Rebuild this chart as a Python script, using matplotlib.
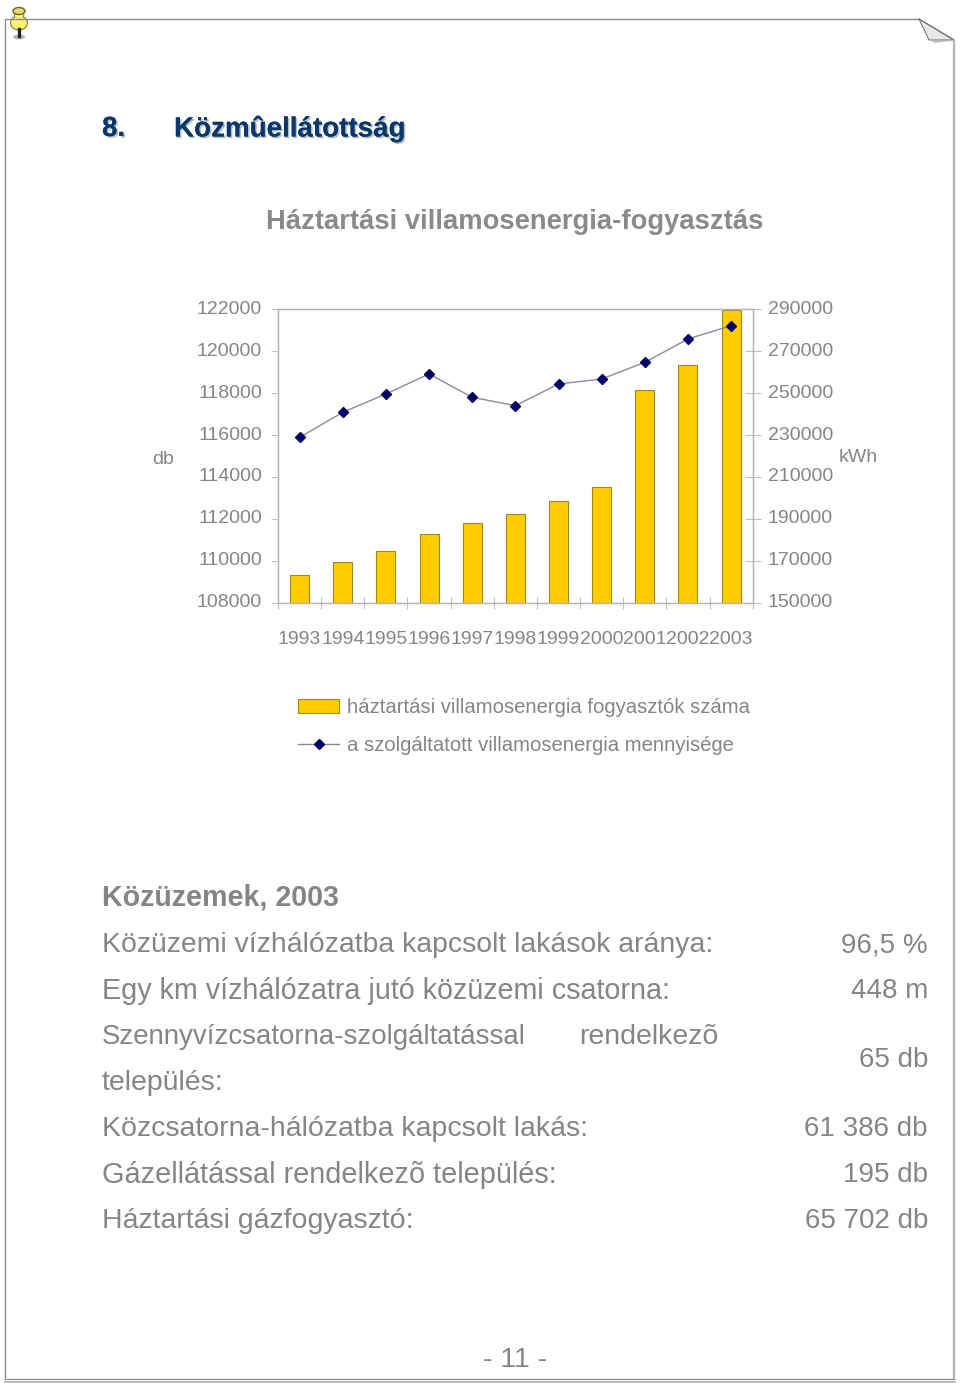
import numpy as np
import matplotlib
matplotlib.use('Agg')
import matplotlib.pyplot as plt
import matplotlib.patheffects as pe
from matplotlib.patches import Ellipse, Polygon
from matplotlib.transforms import ScaledTranslation

plt.rcParams['font.family'] = ['Liberation Sans', 'DejaVu Sans']

years = ['1993', '1994', '1995', '1996', '1997', '1998', '1999', '2000', '2001', '2002', '2003']
consumers = [109305, 109940, 110480, 111290, 111790, 112250, 112870, 113520, 118130, 119330, 121970]
energy = [228900, 240840, 249590, 259140, 248000, 244020, 254360, 256750, 264700, 275840, 282200]

left_ticks = [108000, 110000, 112000, 114000, 116000, 118000, 120000, 122000]
right_ticks = [150000, 170000, 190000, 210000, 230000, 250000, 270000, 290000]

bar_label = 'háztartási villamosenergia fogyasztók száma'
line_label = 'a szolgáltatott villamosenergia mennyisége'

rows = ['Közüzemi vízhálózatba kapcsolt lakások aránya:',
        'Egy km vízhálózatra jutó közüzemi csatorna:',
        'Szennyvízcsatorna-szolgáltatással',
        'település:',
        'Közcsatorna-hálózatba kapcsolt lakás:',
        'Gázellátással rendelkezõ település:',
        'Háztartási gázfogyasztó:']
row_y = [945, 991, 1037, 1083, 1129, 1175, 1221]
row_size = [20.45, 20.7, 19.9, 20.5, 20.5, 20.75, 20.5]
amounts = ['96,5 %', '448 m', '65 db', '61 386 db', '195 db', '65 702 db']
amount_y = [945, 991, 1060, 1129, 1175, 1221]

GREY = '#858585'
W, H = 960, 1383

fig = plt.figure(figsize=(9.6, 13.83), dpi=100)

# page overlay in pixel coords
page = fig.add_axes([0, 0, 1, 1], zorder=0)
page.set_xlim(0, W)
page.set_ylim(H, 0)
page.axis('off')

page.plot([5, 5, 919], [1379, 19, 19], color='#8c8c8c', lw=1.0)
page.plot([919, 954], [19, 40], color='#777777', lw=0.9)
page.plot([954, 954], [40, 1379], color='#b4b4b4', lw=1.6)
page.plot([5, 954], [1379, 1379], color='#8c8c8c', lw=0.9)
page.plot([5, 954], [1381.5, 1381.5], color='#bcbcbc', lw=2.2)
page.add_patch(Polygon([(919, 19), (954, 40), (929, 40)], fc='#e8e8e8', ec='#777777', lw=0.8))
page.add_patch(Polygon([(931, 41), (952, 41), (934, 43)], fc='#c4c4c4', ec='none'))

# pin
page.add_patch(Ellipse((19, 37), 12, 5, fc='#b8b8b8', ec='none'))
page.plot([19, 19], [29, 36], color='#222222', lw=2.4)
page.add_patch(Polygon([(14, 13), (24, 13), (23, 20), (15, 20)], fc='#fbf27a', ec='#8a7d20', lw=0.6))
page.add_patch(Ellipse((19, 23), 17, 14, fc='#fbf27a', ec='#8a7d20', lw=0.8))
page.add_patch(Polygon([(15, 15), (23, 15), (22, 20), (16, 20)], fc='#fbf27a', ec='none'))
page.add_patch(Ellipse((19, 11), 12, 7, fc='#e8d870', ec='#6e6420', lw=1))

shadow = [pe.withSimplePatchShadow(offset=(1.2, -1.2), shadow_rgbFace='#8fa3b8', alpha=0.7), pe.Normal()]
page.text(102, 129, '8.', fontsize=20, fontweight='bold', color='#0b3768', va='center', path_effects=shadow)
page.text(174, 129, 'Közmûellátottság', fontsize=20, fontweight='bold', color='#0b3768', va='center', path_effects=shadow)
page.text(515, 222, 'Háztartási villamosenergia-fogyasztás', fontsize=19.75, fontweight='bold', color='#8a8a8a',
          ha='center', va='center')

page.text(102, 898, 'Közüzemek, 2003', fontsize=20.6, fontweight='bold', color=GREY, va='center')
for label, y, size in zip(rows, row_y, row_size):
    page.text(102, y, label, fontsize=size, color=GREY, va='center')
page.text(579, 1037, 'rendelkezõ', fontsize=20.5, color=GREY, va='center')
for label, y in zip(amounts, amount_y):
    page.text(928, y, label, fontsize=20, color=GREY, ha='right', va='center')
page.text(515, 1360, '- 11 -', fontsize=20.5, color=GREY, ha='center', va='center')

page.text(163, 460, 'db', fontsize=14, color=GREY, ha='center', va='center')
page.text(858, 458, 'kWh', fontsize=14, color=GREY, ha='center', va='center')

# chart
x0, x1, y0, y1 = 278, 752.7, 309.3, 602.7
ax = fig.add_axes([x0 / W, 1 - y1 / H, (x1 - x0) / W, (y1 - y0) / H], zorder=1)
ax.patch.set_alpha(0)
x = np.arange(len(years))
ax.bar(x, consumers, width=0.44, color='#ffcc00', edgecolor='#9c8a1e', linewidth=0.8, label=bar_label)
ax.set_xlim(-0.5, len(years) - 0.5)
ax.set_ylim(108000, 122000)
ax.set_yticks(left_ticks)
ax.set_yticklabels([str(t) for t in left_ticks])
ax.set_xticks(np.arange(len(years) + 1) - 0.5, minor=True)
ax.set_xticks(x)
ax.set_xticklabels(years)
ax.tick_params(axis='x', which='major', length=0, pad=20.7, labelsize=14, labelcolor=GREY)
ax.tick_params(axis='x', which='minor', direction='inout', length=8.6, width=0.8, color='#c0c0c0')
ax.tick_params(axis='y', length=5, width=0.8, color='#c0c0c0', labelsize=14, labelcolor=GREY, pad=6.5)

ax2 = ax.twinx()
ax2.plot(x, energy, color='#8a8a9a', lw=1.0, marker='D', ms=5.5, mfc='#000066', mec='#000066', label=line_label)
ax2.set_ylim(150000, 290000)
ax2.set_yticks(right_ticks)
ax2.set_yticklabels([str(t) for t in right_ticks])
ax2.tick_params(axis='y', direction='inout', length=11, width=0.8, color='#c0c0c0', labelsize=14, labelcolor=GREY, pad=5.3)

# value labels sit a little above their ticks
up = ScaledTranslation(0, 2 / 100, fig.dpi_scale_trans)
for a in (ax, ax2):
    for lab in a.get_yticklabels():
        lab.set_transform(lab.get_transform() + up)
    for s in a.spines.values():
        s.set_color('#b4b4b4')
        s.set_linewidth(0.9)

h1, l1 = ax.get_legend_handles_labels()
h2, l2 = ax2.get_legend_handles_labels()
leg = fig.legend(h1 + h2, l1 + l2, loc='upper left', bbox_to_anchor=(294 / W, 1 - 694 / H), frameon=False,
                 fontsize=14.6, labelcolor=GREY, handlelength=2.03, handletextpad=0.38, labelspacing=0.92,
                 borderpad=0.2, borderaxespad=0)

fig.savefig('out.png', dpi=100)
